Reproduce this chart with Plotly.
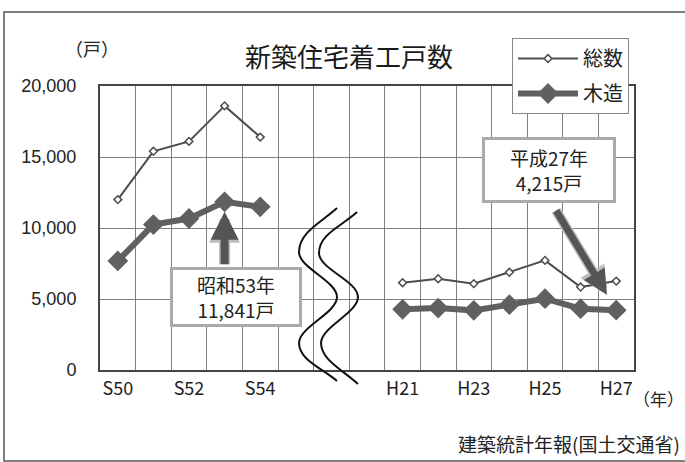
import plotly.graph_objects as go

# ---- data ----
categories = ["S50", "S51", "S52", "S53", "S54", "", "", "",
              "H21", "H22", "H23", "H24", "H25", "H26", "H27"]
total_units = [12000, 15400, 16100, 18600, 16400, None, None, None,
               6150, 6430, 6080, 6880, 7720, 5840, 6260]
wooden_units = [7680, 10240, 10670, 11841, 11490, None, None, None,
                4270, 4360, 4200, 4600, 5020, 4320, 4215]
tick_labels = ["S50", "S52", "S54", "H21", "H23", "H25", "H27"]
y_ticks = [0, 5000, 10000, 15000, 20000]

JP = "Noto Sans CJK JP"
W, H = 685, 462
L, R, T, B = 100, 51, 86, 92
PW, PH = W - L - R, H - T - B


def px(X, Y):
    return f"{(X - L) / PW:.4f},{(H - B - Y) / PH:.4f}"


def pxx(X):
    return (X - L) / PW


def pxy(Y):
    return (H - B - Y) / PH


xpos = [i + 0.5 for i in range(len(categories))]
tickvals = [categories.index(t) + 0.5 for t in tick_labels]

fig = go.Figure()
fig.add_trace(go.Scatter(
    x=xpos, y=total_units, name="総数", mode="lines+markers",
    legendgroup="a",
    line=dict(color="#4d4d4d", width=2),
    marker=dict(symbol="diamond", size=6, color="white",
                line=dict(color="#4d4d4d", width=1.5)),
    connectgaps=False,
))
fig.add_trace(go.Scatter(
    x=xpos, y=wooden_units, name="木造", mode="lines+markers",
    legendgroup="b",
    line=dict(color="#606060", width=6),
    marker=dict(symbol="diamond", size=16, color="#606060"),
    connectgaps=False,
))

# wavy break lines (pixel-designed decoration)
def wave(pts):
    d = "M " + px(*pts[0])
    for c1, c2, p in pts[1]:
        d += " C " + px(*c1) + " " + px(*c2) + " " + px(*p)
    return d

wave1 = ((337, 208), [
    ((322, 222), (299, 232), (299, 252)),
    ((299, 268), (337, 281), (337, 297)),
    ((337, 313), (299, 327), (299, 343)),
    ((299, 360), (322, 368), (337, 381)),
])
wave2 = ((357, 212), [
    ((342, 226), (319, 234), (319, 253)),
    ((319, 269), (358, 281), (358, 297)),
    ((358, 313), (321, 327), (321, 343)),
    ((321, 360), (343, 370), (358, 384)),
])
shapes = []
for wv in (wave1, wave2):
    shapes.append(dict(type="path", xref="paper", yref="paper", path=wave(wv),
                       line=dict(color="#111", width=2)))
# outer frame
shapes.append(dict(type="rect", xref="paper", yref="paper",
                   x0=pxx(4), x1=pxx(700), y0=pxy(461), y1=pxy(12),
                   line=dict(color="#555", width=1.5), layer="below"))

annotations = [
    dict(text="（戸）", xref="paper", yref="paper", x=pxx(92), y=pxy(48),
         xanchor="center", yanchor="middle",
         showarrow=False, font=dict(family=JP, size=18, color="#222")),
    dict(text="（年）", xref="paper", yref="paper", x=pxx(658), y=pxy(398),
         xanchor="center", yanchor="middle",
         showarrow=False, font=dict(family=JP, size=17, color="#222")),
    dict(text="建築統計年報(国土交通省)", xref="paper", yref="paper",
         x=pxx(682), y=pxy(443), xanchor="right", yanchor="middle",
         showarrow=False, font=dict(family=JP, size=19, color="#222")),
]

i53 = categories.index("S53")
i27 = categories.index("H27")
for w, s, c in ((11, 0.56, "#bdbdbd"), (8, 0.7, "#555555")):
    annotations.append(dict(text="", x=xpos[i53], y=wooden_units[i53],
                            ax=0, ay=64, showarrow=True, arrowhead=2,
                            arrowsize=s, arrowwidth=w, arrowcolor=c,
                            standoff=10))
    annotations.append(dict(text="", x=xpos[i27], y=wooden_units[i27],
                            ax=-61, ay=-101, showarrow=True, arrowhead=2,
                            arrowsize=s, arrowwidth=w - 1, arrowcolor=c,
                            standoff=18))
annotations.append(dict(text="昭和53年<br>11,841戸", xref="paper", yref="paper",
                        x=pxx(236), y=pxy(297), xanchor="center", yanchor="middle",
                        showarrow=False,
                        width=122, height=50, borderpad=2, borderwidth=3,
                        bordercolor="#aaaaaa", bgcolor="white",
                        font=dict(family=JP, size=19, color="#222")))
annotations.append(dict(text="平成27年<br>4,215戸", xref="paper", yref="paper",
                        x=pxx(549), y=pxy(170), xanchor="center", yanchor="middle",
                        showarrow=False,
                        width=124, height=56, borderpad=2, borderwidth=3,
                        bordercolor="#aaaaaa", bgcolor="white",
                        font=dict(family=JP, size=19, color="#222")))

fig.update_layout(
    width=W, height=H,
    margin=dict(l=L, r=R, t=T, b=B),
    paper_bgcolor="white", plot_bgcolor="white",
    font=dict(family=JP, color="#222"),
    title=dict(text="新築住宅着工戸数", x=349 / W, y=1 - 58 / H,
               xanchor="center", yanchor="middle",
               font=dict(family=JP, size=26, color="#1a1a1a")),
    xaxis=dict(range=[0, len(categories)], tickmode="array",
               tickvals=tickvals, ticktext=tick_labels, showgrid=False,
               ticks="", ticklabelstandoff=1,
               tickfont=dict(family=JP, size=18, color="#222"),
               minor=dict(tickmode="linear", tick0=0, dtick=1, showgrid=True,
                          gridcolor="#808080", gridwidth=1, ticks=""),
               showline=True, linecolor="#444", linewidth=2, mirror=True,
               zeroline=False),
    yaxis=dict(range=[0, 20000], tickmode="array", tickvals=y_ticks,
               tickformat=",", showgrid=True, gridcolor="#808080", gridwidth=1,
               ticks="", ticklabelstandoff=18,
               tickfont=dict(family="Liberation Sans", size=18, color="#222"),
               showline=True, linecolor="#444", linewidth=2, mirror=True,
               zeroline=False),
    legend=dict(x=pxx(512), y=pxy(38), xanchor="left", yanchor="top",
                bgcolor="white", bordercolor="#888", borderwidth=1,
                font=dict(family=JP, size=20, color="#222"),
                itemwidth=60, tracegroupgap=6),
    shapes=shapes,
    annotations=annotations,
)

fig.write_html("out.html")
